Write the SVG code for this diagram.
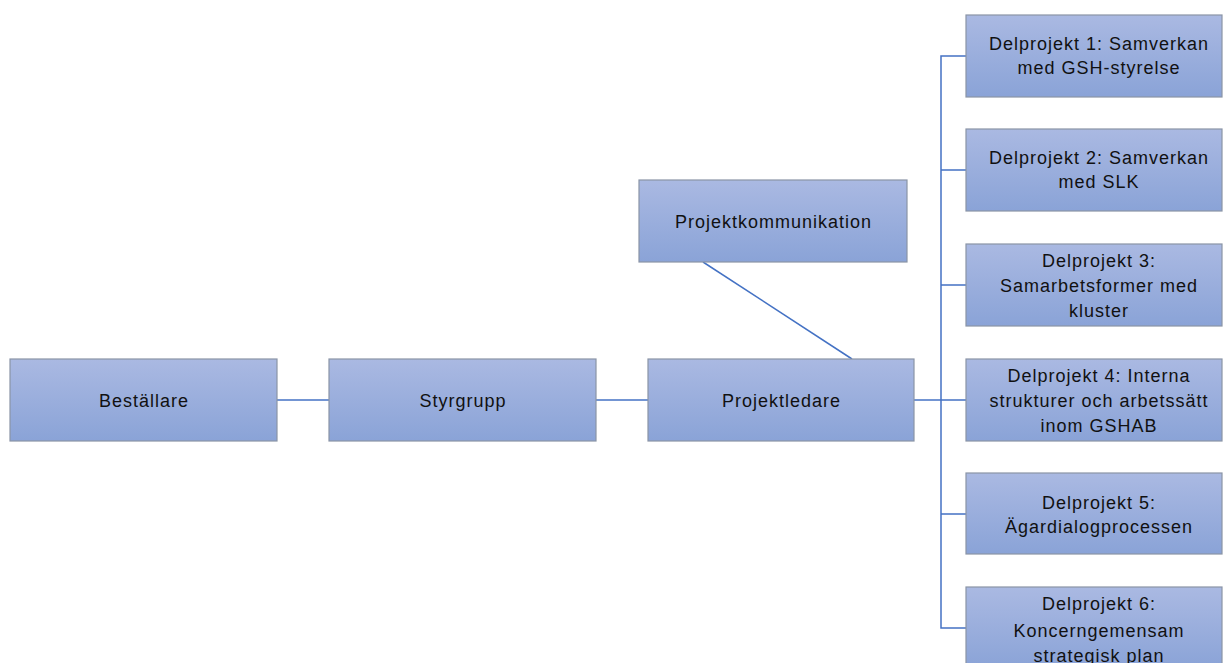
<svg xmlns="http://www.w3.org/2000/svg" width="1223" height="663" viewBox="0 0 1223 663">
<defs>
<linearGradient id="g" x1="0" y1="0" x2="0" y2="1">
<stop offset="0" stop-color="#aab9e2"/>
<stop offset="1" stop-color="#8aa3d7"/>
</linearGradient>
<style>
.box{fill:url(#g);stroke:#8a94a6;stroke-width:1.2}
.t{font-family:"Liberation Sans",Arial,sans-serif;font-size:18px;letter-spacing:1px;fill:#111;text-anchor:middle}
.c{fill:none;stroke:#4472c4;stroke-width:1.5}
</style>
</defs>
<rect width="1223" height="663" fill="#fff"/>
<g id="connectors">
<line class="c" x1="277" y1="400" x2="329" y2="400"/>
<line class="c" x1="596" y1="400" x2="648" y2="400"/>
<line class="c" x1="703" y1="262" x2="852" y2="359"/>
<line class="c" x1="914" y1="400" x2="941" y2="400" stroke-width="2.5"/>
<path class="c" d="M966 56H941V628H966M941 170H966M941 285H966M941 400H966M941 514H966"/>
</g>
<g id="bestallare"><rect class="box" x="10" y="359" width="267" height="82"/><text class="t" x="144" y="407">Beställare</text></g>
<g id="styrgrupp"><rect class="box" x="329" y="359" width="267" height="82"/><text class="t" x="463" y="407">Styrgrupp</text></g>
<g id="projektledare"><rect class="box" x="648" y="359" width="266" height="82"/><text class="t" x="781.5" y="407">Projektledare</text></g>
<g id="projektkommunikation"><rect class="box" x="639" y="180" width="268" height="82"/><text class="t" x="773.5" y="228">Projektkommunikation</text></g>
<g id="dp1"><rect class="box" x="966" y="15" width="256" height="82"/><text class="t" x="1099" y="50">Delprojekt 1: Samverkan</text><text class="t" x="1099" y="74">med GSH-styrelse</text></g>
<g id="dp2"><rect class="box" x="966" y="129" width="256" height="82"/><text class="t" x="1099" y="164">Delprojekt 2: Samverkan</text><text class="t" x="1099" y="188">med SLK</text></g>
<g id="dp3"><rect class="box" x="966" y="244" width="256" height="82"/><text class="t" x="1099" y="267">Delprojekt 3:</text><text class="t" x="1099" y="292">Samarbetsformer med</text><text class="t" x="1099" y="317">kluster</text></g>
<g id="dp4"><rect class="box" x="966" y="359" width="256" height="82"/><text class="t" x="1099" y="382">Delprojekt 4: Interna</text><text class="t" x="1099" y="407">strukturer och arbetssätt</text><text class="t" x="1099" y="432">inom GSHAB</text></g>
<g id="dp5"><rect class="box" x="966" y="473" width="256" height="81"/><text class="t" x="1099" y="509">Delprojekt 5:</text><text class="t" x="1099" y="533">Ägardialogprocessen</text></g>
<g id="dp6"><rect class="box" x="966" y="587" width="256" height="82"/><text class="t" x="1099" y="610">Delprojekt 6:</text><text class="t" x="1099" y="637">Koncerngemensam</text><text class="t" x="1099" y="662">strategisk plan</text></g>
</svg>
